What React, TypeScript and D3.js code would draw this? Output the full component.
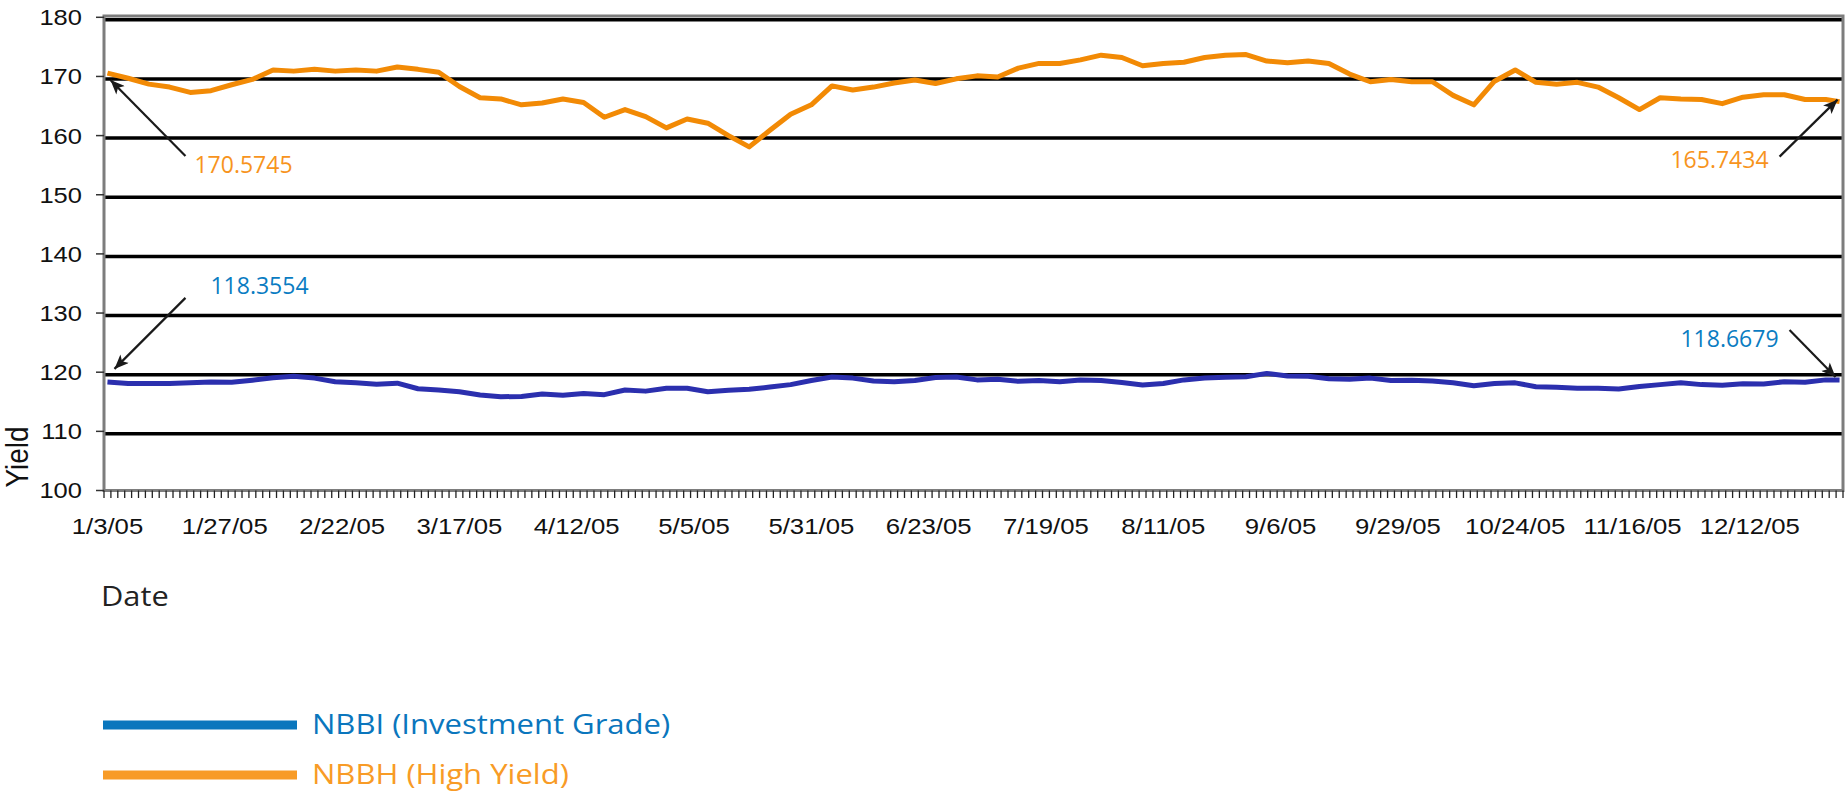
import React, { useEffect, useRef } from "react";
import * as d3 from "d3";

// trading days in 2005 shown on the category axis (1/3/05 .. 12/30/05)
const tradingDays = 252;
const labelEvery = 17;
const dateLabels = [
  "1/3/05", "1/27/05", "2/22/05", "3/17/05", "4/12/05", "5/5/05", "5/31/05", "6/23/05",
  "7/19/05", "8/11/05", "9/6/05", "9/29/05", "10/24/05", "11/16/05", "12/12/05",
];
const yTicks = [100, 110, 120, 130, 140, 150, 160, 170, 180];

// values every third trading day, plus the last day
const sampleDay = [...d3.range(0, tradingDays, 3), tradingDays - 1];

const nbbhValues = [
  170.57, 169.7, 168.7, 168.2, 167.3, 167.6, 168.6, 169.5, 171.1, 170.9,
  171.2, 170.9, 171.1, 170.9, 171.6, 171.2, 170.7, 168.3, 166.4, 166.2,
  165.2, 165.5, 166.2, 165.6, 163.1, 164.4, 163.2, 161.3, 162.8, 162.1,
  160.0, 158.1, 160.9, 163.6, 165.2, 168.4, 167.7, 168.2, 168.9, 169.4,
  168.8, 169.6, 170.1, 169.9, 171.4, 172.2, 172.2, 172.8, 173.6, 173.2,
  171.8, 172.2, 172.4, 173.2, 173.6, 173.7, 172.6, 172.3, 172.6, 172.2,
  170.4, 169.1, 169.5, 169.1, 169.1, 166.8, 165.2, 169.2, 171.1, 169.0,
  168.7, 169.0, 168.2, 166.4, 164.4, 166.4, 166.2, 166.1, 165.4, 166.5,
  166.9, 166.9, 166.1, 166.1, 165.74,
];

const nbbiValues = [
  118.36, 118.1, 118.1, 118.1, 118.2, 118.35, 118.3, 118.65, 119.05, 119.3,
  119.0, 118.4, 118.2, 117.95, 118.15, 117.2, 117.0, 116.7, 116.15, 115.85,
  115.9, 116.3, 116.1, 116.4, 116.2, 117.0, 116.8, 117.3, 117.3, 116.7,
  116.95, 117.1, 117.5, 117.9, 118.6, 119.2, 119.0, 118.5, 118.4, 118.6,
  119.1, 119.2, 118.7, 118.8, 118.45, 118.6, 118.4, 118.7, 118.6, 118.25,
  117.84, 118.1, 118.7, 119.0, 119.15, 119.24, 119.8, 119.35, 119.3, 118.9,
  118.8, 119.0, 118.6, 118.65, 118.5, 118.2, 117.7, 118.1, 118.2, 117.55,
  117.45, 117.3, 117.3, 117.15, 117.6, 117.9, 118.2, 117.9, 117.8, 118.05,
  118.0, 118.4, 118.3, 118.7, 118.67,
];

const legendNames = ["NBBI (Investment Grade)", "NBBH (High Yield)"];

const W = 1846;
const H = 794;

const App: React.FC = () => {
  const ref = useRef<SVGSVGElement>(null);

  useEffect(() => {
    const svg = d3.select(ref.current);
    svg.selectAll("*").remove();

    const left = 104, right = 1843, top = 17.3, bottom = 490.5;
    const x = d3.scaleBand<number>().domain(d3.range(tradingDays)).range([left, right]);
    const cx = (d: number) => (x(d) as number) + x.bandwidth() / 2;
    const y = d3.scaleLinear().domain([100, 180]).range([bottom, top]);

    const arial = "'Liberation Sans', Arial, sans-serif";
    const sans = "'Open Sans', 'Noto Sans', sans-serif";

    // gridlines (drawn a little below the tick like the original)
    svg.append("g")
      .attr("transform", "translate(0,2.5)")
      .selectAll("line")
      .data(yTicks.filter((v) => v > 100))
      .join("line")
      .attr("x1", left)
      .attr("x2", right)
      .attr("y1", (d) => y(d))
      .attr("y2", (d) => y(d))
      .attr("stroke", "#000")
      .attr("stroke-width", 3.5);

    // plot frame
    svg.append("rect")
      .attr("x", left)
      .attr("y", 16)
      .attr("width", right - left)
      .attr("height", bottom - 16)
      .attr("fill", "none")
      .attr("stroke", "#7d7d7d")
      .attr("stroke-width", 3);

    // y axis ticks + labels
    const yAx = svg.append("g");
    yAx.selectAll("line")
      .data(yTicks)
      .join("line")
      .attr("x1", 96)
      .attr("x2", left)
      .attr("y1", (d) => y(d))
      .attr("y2", (d) => y(d))
      .attr("stroke", "#333")
      .attr("stroke-width", 1.5);
    yAx.selectAll("text")
      .data(yTicks)
      .join("text")
      .attr("transform", (d) => `translate(82,${y(d)}) scale(1.16,1)`)
      .attr("dy", "0.36em")
      .attr("text-anchor", "end")
      .attr("font-family", arial)
      .attr("font-size", 22)
      .attr("fill", "#111")
      .text((d) => d);

    // x axis ticks at category boundaries
    const xAx = svg.append("g");
    xAx.selectAll("line")
      .data(d3.range(tradingDays + 1))
      .join("line")
      .attr("x1", (d) => left + d * x.step())
      .attr("x2", (d) => left + d * x.step())
      .attr("y1", bottom)
      .attr("y2", bottom + 7.5)
      .attr("stroke", "#222")
      .attr("stroke-width", 1.3);
    xAx.selectAll("text")
      .data(dateLabels)
      .join("text")
      .attr("transform", (_, i) => `translate(${cx(i * labelEvery)},534) scale(1.17,1)`)
      .attr("text-anchor", "middle")
      .attr("font-family", arial)
      .attr("font-size", 22)
      .attr("fill", "#111")
      .text((d) => d);

    // series
    const line = d3.line<number>()
      .x((_, i) => cx(sampleDay[i]))
      .y((d) => y(d));

    svg.append("path")
      .datum(nbbiValues)
      .attr("d", line)
      .attr("fill", "none")
      .attr("stroke", "#2b2fae")
      .attr("stroke-width", 5)
      .attr("stroke-linejoin", "round");

    svg.append("path")
      .datum(nbbhValues)
      .attr("d", line)
      .attr("fill", "none")
      .attr("stroke", "#f28a05")
      .attr("stroke-width", 5)
      .attr("stroke-linejoin", "round");

    // callouts for first / last values
    const defs = svg.append("defs");
    defs.append("marker")
      .attr("id", "arrow")
      .attr("viewBox", "0 0 12 10")
      .attr("refX", 12)
      .attr("refY", 5)
      .attr("markerWidth", 15)
      .attr("markerHeight", 12)
      .attr("markerUnits", "userSpaceOnUse")
      .attr("orient", "auto")
      .append("path")
      .attr("d", "M0,0 L12,5 L0,10 L3,5 Z")
      .attr("fill", "#1a1a1a");

    const n = sampleDay.length - 1;
    const callouts = [
      { text: "170.5745", color: "#f7941d", day: sampleDay[0], v: nbbhValues[0], tip: [3, 7], tail: [78, 83], lab: [87, 100], anchor: "start" },
      { text: "118.3554", color: "#0a7cc2", day: sampleDay[0], v: nbbiValues[0], tip: [7, -13], tail: [78, -84], lab: [103, -88], anchor: "start" },
      { text: "165.7434", color: "#f7941d", day: sampleDay[n], v: nbbhValues[n], tip: [-2, -2], tail: [-60, 55], lab: [-71, 66], anchor: "end" },
      { text: "118.6679", color: "#0a7cc2", day: sampleDay[n], v: nbbiValues[n], tip: [-4, -3], tail: [-50, -50], lab: [-61, -33], anchor: "end" },
    ];

    const cg = svg.append("g");
    callouts.forEach((c) => {
      const px = cx(c.day), py = y(c.v);
      cg.append("line")
        .attr("x1", px + c.tail[0])
        .attr("y1", py + c.tail[1])
        .attr("x2", px + c.tip[0])
        .attr("y2", py + c.tip[1])
        .attr("stroke", "#1a1a1a")
        .attr("stroke-width", 2.2)
        .attr("marker-end", "url(#arrow)");
      cg.append("text")
        .attr("x", px + c.lab[0])
        .attr("y", py + c.lab[1])
        .attr("text-anchor", c.anchor)
        .attr("font-family", sans)
        .attr("font-size", 23)
        .attr("fill", c.color)
        .text(c.text);
    });

    // axis titles
    svg.append("text")
      .attr("transform", "translate(28,457) scale(1.15,1) rotate(-90)")
      .attr("text-anchor", "middle")
      .attr("font-family", arial)
      .attr("font-size", 28)
      .attr("fill", "#111")
      .text("Yield");

    svg.append("text")
      .attr("transform", "translate(101,606) scale(1.1,1)")
      .attr("font-family", sans)
      .attr("font-size", 28)
      .attr("fill", "#222")
      .text("Date");

    // legend
    const legendColors = ["#0a76bd", "#f89b26"];
    const lg = svg.append("g");
    legendNames.forEach((name, i) => {
      const ly = 725 + i * 50;
      lg.append("rect")
        .attr("x", 103)
        .attr("y", ly - 4.5)
        .attr("width", 194)
        .attr("height", 9)
        .attr("fill", legendColors[i]);
      lg.append("text")
        .attr("transform", `translate(312,${ly + 8.5}) scale(1.15,1)`)
        .attr("font-family", sans)
        .attr("font-size", 27)
        .attr("fill", legendColors[i])
        .text(name);
    });
  }, []);

  return (
    <svg
      ref={ref}
      width={W}
      height={H}
      style={{ position: "absolute", left: 0, top: 0, background: "#fff", display: "block" }}
    />
  );
};

export default App;
